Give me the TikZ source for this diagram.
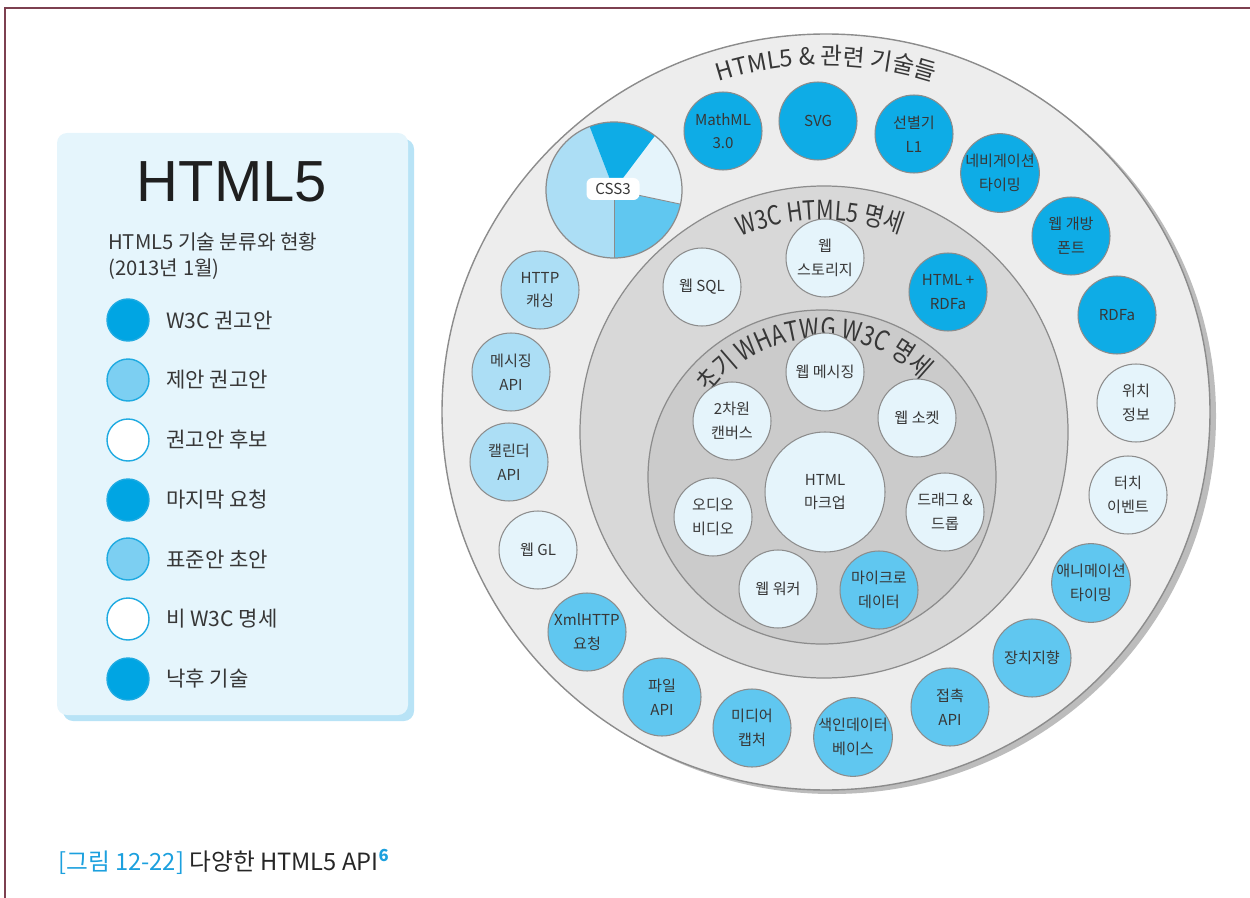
\documentclass[tikz,border=0pt]{standalone}
\usepackage{fontspec}
\setmainfont{Noto Sans CJK KR}
\newfontfamily\arcfont[FakeStretch=0.82]{Noto Sans CJK KR}
\newfontfamily\titlefont{Liberation Sans}
\usetikzlibrary{decorations.text}
\definecolor{recblue}{RGB}{14,172,230}
\definecolor{propblue}{RGB}{96,199,240}
\definecolor{paleblue}{RGB}{172,222,245}
\definecolor{candblue}{RGB}{229,244,251}
\definecolor{recdot}{RGB}{0,165,227}
\definecolor{propdot}{RGB}{124,207,242}
\definecolor{ringline}{RGB}{140,140,140}
\definecolor{outerring}{RGB}{237,237,237}
\definecolor{midring}{RGB}{216,216,216}
\definecolor{innerring}{RGB}{203,203,203}
\definecolor{ringshadow}{RGB}{188,188,188}
\definecolor{legendfill}{RGB}{229,245,252}
\definecolor{legendshadow}{RGB}{184,227,246}
\definecolor{legendline}{RGB}{30,170,225}
\definecolor{txt}{RGB}{55,55,55}
\definecolor{capblue}{RGB}{28,160,222}
\definecolor{framecol}{RGB}{125,64,80}

\begin{document}
\begin{tikzpicture}[x=0.02cm,y=0.02cm,
  api/.style={circle, draw=ringline, line width=0.6pt, minimum size=1.56cm, inner sep=0pt, align=center, text=txt, font=\fontsize{8.6}{13.5}\selectfont},
  rec/.style={api, fill=recblue},
  prop/.style={api, fill=propblue},
  pale/.style={api, fill=paleblue},
  cand/.style={api, fill=candblue},
  legdot/.style={circle, draw=legendline, line width=0.8pt, minimum size=0.84cm, inner sep=0pt},
  legtext/.style={anchor=west, text=txt, font=\fontsize{12}{12}\selectfont},
  csslabel/.style={fill=white, rounded corners=0.12cm, minimum width=1.06cm, minimum height=0.44cm, inner sep=0pt, text=txt, font=\fontsize{8.6}{10}\selectfont}]
\useasboundingbox (0,0) rectangle (1250,-898);

\draw [framecol, line width=1.7pt] (5,-898) -- (5,-8) -- (1250,-8);

\fill [legendshadow, rounded corners=0.2cm] (63,-139) rectangle (414,-721);
\fill [legendfill, rounded corners=0.2cm] (57,-133) rectangle (408,-715);
\node [text=black!88, font=\titlefont\fontsize{33}{33}\selectfont] (title) at (232,-182) {HTML5};
\node [anchor=north west, align=left, text=txt, font=\fontsize{11.5}{15}\selectfont] (subtitle) at (102,-226) {HTML5 기술 분류와 현황\\(2013년 1월)};
\node [legdot, fill=recdot] (dot1) at (128,-320) {};
\node [legtext] (lab1) at (160,-320) {W3C 권고안};
\node [legdot, fill=propdot] (dot2) at (128,-380) {};
\node [legtext] (lab2) at (160,-380) {제안 권고안};
\node [legdot, fill=white] (dot3) at (128,-440) {};
\node [legtext] (lab3) at (160,-440) {권고안 후보};
\node [legdot, fill=recdot] (dot4) at (128,-500) {};
\node [legtext] (lab4) at (160,-500) {마지막 요청};
\node [legdot, fill=propdot] (dot5) at (128,-559) {};
\node [legtext] (lab5) at (160,-559) {표준안 초안};
\node [legdot, fill=white] (dot6) at (128,-619) {};
\node [legtext] (lab6) at (160,-619) {비 W3C 명세};
\node [legdot, fill=recdot] (dot7) at (128,-679) {};
\node [legtext] (lab7) at (160,-679) {낙후 기술};

\coordinate (outerc) at (826,-412);
\coordinate (midc) at (824,-432);
\coordinate (innerc) at (822,-477);
\fill [ringshadow] ([shift={(6,-4)}]outerc) ellipse [x radius=384, y radius=378];
\draw [ringline, fill=outerring, line width=0.8pt] (outerc) ellipse [x radius=384, y radius=378];
\draw [ringline, fill=midring, line width=0.7pt] (midc) ellipse [x radius=244, y radius=246];
\draw [ringline, fill=innerring, line width=0.7pt] (innerc) ellipse [x radius=174, y radius=167];

\path [decorate, decoration={text along path, text align=center, text={|\fontsize{13.5}{13.5}\selectfont\color{txt}|HTML5 {\&} 관련 기술들}}] ([shift={(126:347)}]outerc) arc (126:54:347);
\path [decorate, decoration={text along path, text align=center, text={|\arcfont\fontsize{15}{15}\selectfont\color{txt}|W3C HTML5 명세}}] ([shift={(132:212)}]midc) arc (132:50:212);
\path [decorate, decoration={text along path, text align=center, text={|\arcfont\fontsize{15.5}{15.5}\selectfont\color{txt}|초기 WHATWG W3C 명세}}] ([shift={(156:139)}]innerc) arc (156:32:139);

\coordinate (cssc) at (614,-190);
\fill [paleblue] (cssc) -- ([shift={(111:68)}]cssc) arc (111:270:68) -- cycle;
\fill [propblue] (cssc) -- ([shift={(270:68)}]cssc) arc (270:348:68) -- cycle;
\fill [candblue] (cssc) -- ([shift={(-12:68)}]cssc) arc (-12:53:68) -- cycle;
\fill [recblue] (cssc) -- ([shift={(53:68)}]cssc) arc (53:111:68) -- cycle;
\draw [ringline, line width=0.5pt] (cssc) -- ([shift={(270:68)}]cssc);
\draw [ringline, line width=0.5pt] (cssc) -- ([shift={(-12:68)}]cssc);
\draw [ringline, line width=0.7pt] (cssc) circle (68);
\node [csslabel] (css3) at (613,-189) {CSS3};

\node [rec] (mathml) at (723,-131) {MathML\\3.0};
\node [rec] (svg) at (818,-121) {SVG};
\node [rec] (selector) at (914,-134) {선별기\\L1};
\node [rec] (navtiming) at (1000,-173) {네비게이션\\타이밍};
\node [rec] (webfont) at (1071,-236) {웹 개방\\폰트};
\node [rec] (rdfa) at (1117,-315) {RDFa};
\node [cand] (geo) at (1136,-403) {위치\\정보};
\node [cand] (touch) at (1128,-495) {터치\\이벤트};
\node [prop] (animtiming) at (1091,-583) {애니메이션\\타이밍};
\node [prop] (orient) at (1032,-658) {장치지향};
\node [prop] (contacts) at (950,-707) {접촉\\API};
\node [prop] (indexeddb) at (853,-737) {색인데이터\\베이스};
\node [prop] (capture) at (752,-728) {미디어\\캡처};
\node [prop] (fileapi) at (662,-697) {파일\\API};
\node [prop] (xhr) at (587,-632) {XmlHTTP\\요청};
\node [cand] (webgl) at (538,-550) {웹 GL};
\node [pale] (calendar) at (509,-462) {캘린더\\API};
\node [pale] (msgapi) at (511,-372) {메시징\\API};
\node [pale] (httpcache) at (540,-290) {HTTP\\캐싱};

\node [cand] (websql) at (702,-287) {웹 SQL};
\node [cand] (storage) at (825,-258) {웹\\스토리지};
\node [rec] (htmlrdfa) at (948,-292) {HTML +\\RDFa};

\node [cand] (webmsg) at (825,-372) {웹 메시징};
\node [cand] (canvas) at (732,-421) {2차원\\캔버스};
\node [cand] (socket) at (917,-418) {웹 소켓};
\node [cand, minimum size=2.4cm] (markup) at (825,-492) {HTML\\마크업};
\node [cand] (media) at (713,-517) {오디오\\비디오};
\node [cand] (dnd) at (945,-512) {드래그 \&\\드롭};
\node [cand] (worker) at (778,-589) {웹 워커};
\node [prop] (microdata) at (879,-590) {마이크로\\데이터};

\node [anchor=west, text=black!85, font=\fontsize{13.5}{13.5}\selectfont] (caption) at (52,-862) {\textcolor{capblue}{[그림 12-22]} 다양한 HTML5 API\textsuperscript{\textcolor{capblue}{\bfseries 6}}};
\end{tikzpicture}
\end{document}
